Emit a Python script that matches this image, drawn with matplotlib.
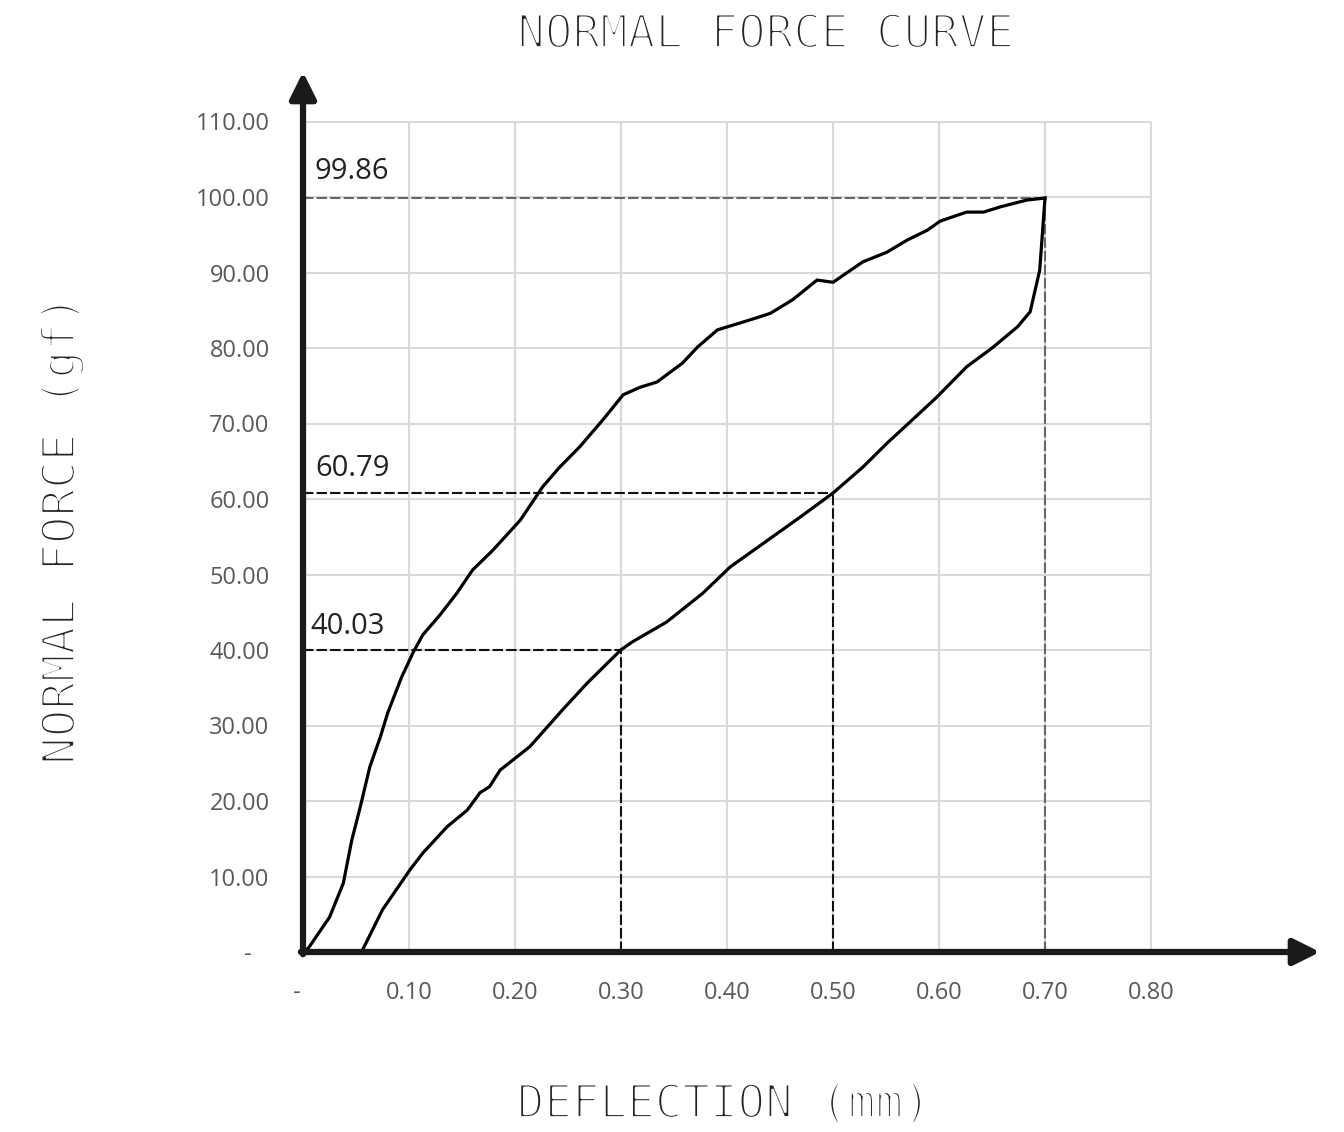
import matplotlib
matplotlib.use("Agg")
import matplotlib.pyplot as plt
from matplotlib import font_manager
import matplotlib.patheffects as pe

# loading curve (upper branch)
load_x = [0, 0.005, 0.025, 0.038, 0.046, 0.054, 0.063, 0.073, 0.080, 0.093, 0.104, 0.113,
          0.129, 0.145, 0.160, 0.179, 0.205, 0.226, 0.242, 0.261, 0.283, 0.302, 0.318,
          0.334, 0.358, 0.372, 0.391, 0.412, 0.428, 0.441, 0.462, 0.485, 0.500, 0.528,
          0.551, 0.570, 0.589, 0.601, 0.626, 0.642, 0.658, 0.683, 0.700]
load_y = [0, 0.5, 4.6, 9.1, 14.8, 19.2, 24.5, 28.5, 31.7, 36.4, 39.7, 42.0,
          44.6, 47.5, 50.6, 53.2, 57.2, 61.6, 64.2, 66.9, 70.5, 73.8, 74.8,
          75.5, 78.0, 80.1, 82.4, 83.3, 84.0, 84.6, 86.4, 89.0, 88.7, 91.4,
          92.7, 94.3, 95.6, 96.8, 98.0, 98.0, 98.7, 99.6, 99.86]

# unloading curve (lower branch)
unload_x = [0.700, 0.695, 0.686, 0.674, 0.651, 0.626, 0.598, 0.575, 0.551, 0.528, 0.500,
            0.469, 0.428, 0.403, 0.377, 0.343, 0.311, 0.300, 0.268, 0.245, 0.214, 0.186,
            0.176, 0.167, 0.155, 0.136, 0.113, 0.101, 0.075, 0.057, 0.055]
unload_y = [99.86, 90.3, 84.8, 82.8, 80.1, 77.5, 73.5, 70.5, 67.4, 64.2, 60.79,
            57.6, 53.5, 51.0, 47.5, 43.7, 41.1, 40.03, 35.6, 32.1, 27.2, 24.1,
            21.9, 21.1, 18.8, 16.6, 13.1, 10.9, 5.6, 0.5, 0]

# marked points: (deflection, force)
marks_x = [0.70, 0.50, 0.30]
marks_y = [99.86, 60.79, 40.03]
mark_labels = ["99.86", "60.79", "40.03"]

x_ticks = [0, 0.1, 0.2, 0.3, 0.4, 0.5, 0.6, 0.7, 0.8]
x_ticklabels = ["-  ", "0.10", "0.20", "0.30", "0.40", "0.50", "0.60", "0.70", "0.80"]
y_ticks = [0, 10, 20, 30, 40, 50, 60, 70, 80, 90, 100, 110]
y_ticklabels = ["-   "] + ["%.2f" % v for v in y_ticks[1:]]

names = {f.name for f in font_manager.fontManager.ttflist}
label_font = "Open Sans" if "Open Sans" in names else "DejaVu Sans"

fig = plt.figure(figsize=(13.44, 11.32), dpi=100)
ax = fig.add_axes([303 / 1344, 1 - 952 / 1132, (1320 - 303) / 1344, (952 - 72) / 1132])
xmax = (1320 - 303) / 1060
ymax = (952 - 72) / 7.55
ax.set_xlim(0, xmax)
ax.set_ylim(0, ymax)
for s in ax.spines.values():
    s.set_visible(False)

# grid only inside 0..0.8 / 0..110
grid_c = "#d9d9d9"
ax.vlines(x_ticks[1:], 0, 110, color=grid_c, lw=1.5, zorder=1)
ax.hlines(y_ticks[1:], 0, 0.8, color=grid_c, lw=1.5, zorder=1)

# dashed guide lines
for i, (mx, my) in enumerate(zip(marks_x, marks_y)):
    c = "#666666" if i == 0 else "#111111"
    ax.plot([0, mx], [my, my], color=c, lw=1.5, ls=(0, (5, 1.5)), zorder=2)
    ax.plot([mx, mx], [0, my], color=c, lw=1.5, ls=(0, (5, 1.5)), zorder=2)

lbl_pos = [(0.011, 103.4), (0.012, 64.0), (0.007, 43.1)]
for (lx, ly), t in zip(lbl_pos, mark_labels):
    ax.text(lx, ly, t, fontsize=21, family=label_font, color="#222222",
            ha="left", va="center", zorder=4)

ax.plot(load_x, load_y, color="black", lw=2.3, zorder=3)
ax.plot(unload_x, unload_y, color="black", lw=2.3, zorder=3)

# thick arrow axes
arrow = dict(arrowstyle="-|>,head_length=0.8,head_width=0.4", lw=4.5,
             color="#1a1a1a", shrinkA=0, shrinkB=0, mutation_scale=20)
ax.annotate("", xy=(xmax, 0), xytext=(-0.002, 0), arrowprops=arrow,
            annotation_clip=False, zorder=5)
ax.annotate("", xy=(0, ymax), xytext=(0, -0.3), arrowprops=arrow,
            annotation_clip=False, zorder=5)

ax.set_xticks(x_ticks)
ax.set_xticklabels(x_ticklabels)
ax.set_yticks(y_ticks)
ax.set_yticklabels(y_ticklabels)
ax.tick_params(axis="both", length=0, labelsize=17, labelcolor="#595959")
ax.tick_params(axis="x", pad=21)
ax.tick_params(axis="y", pad=24)
for t in ax.get_xticklabels() + ax.get_yticklabels():
    t.set_family(label_font)

# CAD-like monospace titles, thinned with a white outline
thin = [pe.Stroke(linewidth=2.0, foreground="white")]
tkw = dict(fontsize=33, family="DejaVu Sans Mono", color="#262626", path_effects=thin)
fig.text(766 / 1344, 1 - 35 / 1132, "NORMAL FORCE CURVE", ha="center", va="center", **tkw)
fig.text(724 / 1344, 1 - 1105 / 1132, "DEFLECTION (mm)", ha="center", va="center", **tkw)
fig.text(62 / 1344, 1 - 530 / 1132, "NORMAL FORCE (gf)", ha="center", va="center",
         rotation=90, **tkw)

fig.savefig("out.png", dpi=100)
